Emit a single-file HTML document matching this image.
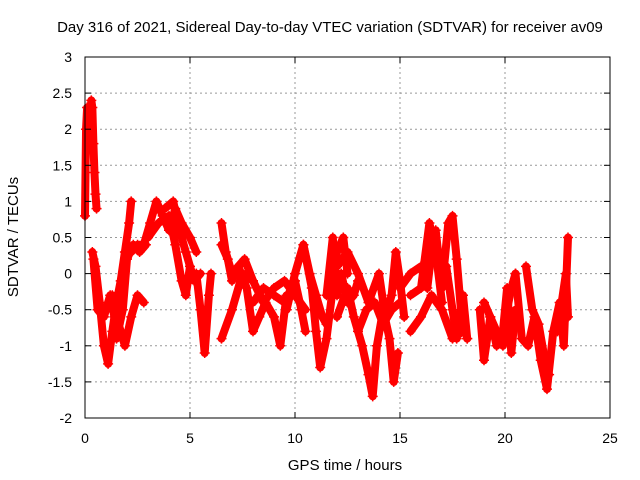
<!DOCTYPE html>
<html><head><meta charset="utf-8"><style>
body{margin:0;background:#fff;}
svg{display:block;font-family:"Liberation Sans",sans-serif;}
</style></head><body>
<svg id="chart" width="640" height="480">
<rect x="0" y="0" width="640" height="480" fill="#fff"/>
<g id="grid"></g>
<g id="marks"></g>
<rect x="85" y="57" width="525" height="361" fill="none" stroke="#000" stroke-width="1"/>
<g id="ticks"></g>
<text x="330" y="32" font-size="15" text-anchor="middle">Day 316 of 2021, Sidereal Day-to-day VTEC variation (SDTVAR) for receiver av09</text>
<text x="345" y="470" font-size="15" text-anchor="middle">GPS time / hours</text>
<text x="18" y="237" font-size="15" text-anchor="middle" transform="rotate(-90 18 237)">SDTVAR / TECUs</text>
</svg>
<script>
const xTicks=[0,5,10,15,20,25];
const yTicks=[-2,-1.5,-1,-0.5,0,0.5,1,1.5,2,2.5,3];
const arcA_t=[0.0,0.05,0.1,0.15,0.2,0.25,0.3,0.35,0.4,0.45,0.5,0.55];
const arcA_v=[0.8,2.0,2.3,1.8,2.2,2.1,2.4,2.3,1.8,1.4,1.1,0.9];
const arcB_t=[0.35,0.5,0.7,0.9,1.1,1.3,1.5,1.7,1.9,2.1,2.2];
const arcB_v=[0.3,0.1,-0.4,-1.0,-1.25,-0.8,-0.4,-0.1,0.3,0.7,1.0];
const arcC_t=[1.0,1.3,1.6,1.9,2.2,2.5,2.8];
const arcC_v=[-0.5,-0.3,-0.7,-1.0,-0.6,-0.3,-0.4];
const arcD_t=[2.2,2.5,2.8,3.1,3.4,3.7,4.0,4.3,4.6,5.0,5.3];
const arcD_v=[0.3,0.4,0.4,0.7,1.0,0.8,0.6,0.9,0.7,0.5,0.3];
const arcE_t=[3.0,3.5,4.0,4.3,4.6,4.8,5.0];
const arcE_v=[0.5,0.7,0.8,0.4,-0.1,-0.3,0.1];
const arcF_t=[5.3,5.5,5.7,5.9,6.0];
const arcF_v=[0.0,-0.5,-1.1,-0.3,0.0];
const arcG_t=[6.5,6.8,7.0,7.3,7.7,8.0,8.3,8.6,9.0,9.3,9.6];
const arcG_v=[0.4,0.2,-0.1,0.1,-0.2,-0.8,-0.6,-0.4,-0.6,-1.0,-0.3];
const arcH_t=[6.5,7.0,7.5,8.0,8.5,9.0,9.5,10.0,10.5];
const arcH_v=[-0.9,-0.5,0.0,-0.1,-0.4,-0.2,-0.1,-0.3,-0.5];
const arcI_t=[9.6,10.0,10.4,10.8,11.0,11.2,11.5,11.8,12.0,12.3,12.5];
const arcI_v=[-0.5,0.0,0.4,-0.2,-0.8,-1.3,-0.9,-0.2,0.3,0.5,0.0];
const arcJ_t=[12.0,12.5,12.8,13.2,13.5,13.7,13.9,14.2,14.5,14.7,14.9];
const arcJ_v=[-0.6,-0.2,-0.6,-1.0,-1.4,-1.7,-1.0,-0.5,-0.9,-1.5,-1.1];
const arcK_t=[12.0,12.5,13.0,13.5,14.0,14.3,14.6,14.8,15.0,15.2];
const arcK_v=[0.1,0.3,0.0,-0.4,0.0,-0.6,-0.3,0.3,-0.1,-0.6];
const arcL_t=[15.0,15.5,16.0,16.3,16.5,16.7,17.0,17.3,17.5,17.7,17.9,18.2];
const arcL_v=[-0.2,0.0,0.1,-0.2,0.3,0.6,-0.2,0.7,0.8,0.2,-0.5,-0.9];
const arcM_t=[15.5,16.0,16.5,17.0,17.5,18.0];
const arcM_v=[-0.8,-0.6,-0.3,-0.5,-0.9,-0.8];
const arcN_t=[18.8,19.0,19.3,19.6,19.9,20.1,20.3,20.5];
const arcN_v=[-0.5,-1.2,-0.6,-1.0,-0.8,-0.2,-1.1,-0.5];
const arcO_t=[20.5,20.8,21.1,21.4,21.7,22.0,22.3,22.6,22.8,23.0];
const arcO_v=[0.0,-0.9,-1.0,-0.6,-1.2,-1.6,-0.8,-0.4,-1.0,0.5];
const arcP_t=[1.5,1.8,2.0,2.3,2.6,2.9];
const arcP_v=[-0.9,-0.5,0.2,0.4,0.3,0.4];
const arcQ_t=[6.5,6.7,7.0,7.3,7.6,8.0];
const arcQ_v=[0.7,0.3,0.0,0.1,0.2,-0.1];
const arcR_t=[8.0,8.5,9.0,9.5,10.0,10.3,10.5];
const arcR_v=[-0.4,-0.2,-0.3,-0.4,-0.1,-0.5,-0.8];
const arcS_t=[10.4,10.7,11.0,11.3,11.5];
const arcS_v=[0.4,0.0,-0.3,-0.6,-0.7];
const arcT_t=[11.5,11.8,12.0,12.2,12.5,12.8,13.0];
const arcT_v=[-0.3,0.5,-0.3,0.0,-0.4,-0.3,-0.1];
const arcU_t=[13.0,13.4,13.8,14.2,14.6,15.0];
const arcU_v=[-0.8,-0.5,-0.4,-0.7,-0.5,-0.4];
const arcV_t=[15.5,16.0,16.4,16.7,17.0];
const arcV_v=[-0.3,-0.2,0.7,0.3,-0.4];
const arcW_t=[17.2,17.5,17.7,18.0,18.2];
const arcW_v=[0.1,-0.5,-0.9,-0.3,-0.9];
const arcX_t=[19.0,19.3,19.6,19.9,20.1,20.3,20.5];
const arcX_v=[-0.4,-0.6,-0.8,-1.0,-0.5,-0.2,0.0];
const arcY_t=[21.0,21.3,21.6,21.9,22.1];
const arcY_v=[0.1,-0.5,-0.7,-1.2,-1.4];
const arcZ_t=[22.5,22.7,22.9,23.0];
const arcZ_v=[-0.8,-0.4,0.0,-0.6];
const arcAA_t=[0.4,0.6,0.9,1.2,1.4];
const arcAA_v=[0.2,-0.5,-0.6,-0.3,-0.6];
const arcAB_t=[3.8,4.2,4.5,4.8,5.2,5.5];
const arcAB_v=[0.9,1.0,0.6,0.3,-0.1,0.0];
const arcs=[[arcA_t,arcA_v],[arcB_t,arcB_v],[arcC_t,arcC_v],[arcD_t,arcD_v],[arcE_t,arcE_v],[arcF_t,arcF_v],[arcG_t,arcG_v],[arcH_t,arcH_v],[arcI_t,arcI_v],[arcJ_t,arcJ_v],[arcK_t,arcK_v],[arcL_t,arcL_v],[arcM_t,arcM_v],[arcN_t,arcN_v],[arcO_t,arcO_v],[arcP_t,arcP_v],[arcQ_t,arcQ_v],[arcR_t,arcR_v],[arcS_t,arcS_v],[arcT_t,arcT_v],[arcU_t,arcU_v],[arcV_t,arcV_v],[arcW_t,arcW_v],[arcX_t,arcX_v],[arcY_t,arcY_v],[arcZ_t,arcZ_v],[arcAA_t,arcAA_v],[arcAB_t,arcAB_v]];
const NS='http://www.w3.org/2000/svg';
function sx(t){return 85+t*(525/25);}
function sy(v){return 418-(v+2)*(361/5);}
function mk(tag,attrs,parent){const e=document.createElementNS(NS,tag);for(const k in attrs)e.setAttribute(k,attrs[k]);parent.appendChild(e);return e;}
const grid=document.getElementById('grid'),ticks=document.getElementById('ticks'),marks=document.getElementById('marks');
xTicks.forEach(t=>{
  if(t>0&&t<25){const g=mk('line',{x1:sx(t),x2:sx(t),y1:57,y2:418,stroke:'#999','stroke-dasharray':'2,3'},grid);
  
  }
  mk('line',{x1:sx(t),x2:sx(t),y1:418,y2:412,stroke:'#000'},ticks);
  mk('line',{x1:sx(t),x2:sx(t),y1:57,y2:63,stroke:'#000'},ticks);
  const l=mk('text',{x:sx(t),y:443,'font-size':14,'text-anchor':'middle'},ticks);l.textContent=t;
  
  
});
yTicks.forEach(v=>{
  if(v>-2&&v<3){const g=mk('line',{x1:85,x2:610,y1:sy(v),y2:sy(v),stroke:'#999','stroke-dasharray':'2,3'},grid);
  
  }
  mk('line',{x1:85,x2:91,y1:sy(v),y2:sy(v),stroke:'#000'},ticks);
  mk('line',{x1:610,x2:604,y1:sy(v),y2:sy(v),stroke:'#000'},ticks);
  const l=mk('text',{x:72,y:sy(v)+5,'font-size':14,'text-anchor':'end'},ticks);l.textContent=v;
  
  
});
arcs.forEach(([ts,vs])=>{
  const pts=ts.map((t,i)=>sx(t)+','+sy(vs[i])).join(' ');
  const p=mk('polyline',{points:pts,fill:'none',stroke:'#f00','stroke-width':8,'stroke-linejoin':'round','stroke-linecap':'round'},marks);
  
  
  ts.forEach((t,i)=>{
    const x=sx(t),y=sy(vs[i]);
    const m=mk('path',{d:`M${x-5},${y}H${x+5}M${x},${y-5}V${y+5}`,stroke:'#f00','stroke-width':1.5},marks);
    
    
  });
});
</script>
</body></html>
